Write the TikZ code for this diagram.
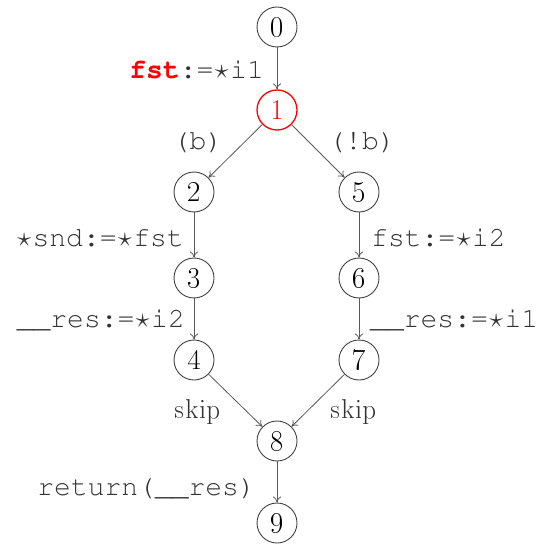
\RequirePackage{fix-cm}
\documentclass[tikz,border=0pt]{standalone}
\usepackage[T1]{fontenc}
\usetikzlibrary{arrows.meta}
\newcommand{\mytt}{\fontfamily{pcr}\selectfont}
\newcommand{\mystar}{\makebox[0.6em]{$\star$}}
\begin{document}
\begin{tikzpicture}[x=1pt,y=-1pt,
  st/.style={circle,draw=black!75,line width=0.9pt,minimum size=40pt,inner sep=0pt,font=\fontsize{29}{31}\selectfont},
  cur/.style={st,draw=red,text=red,line width=1.3pt},
  edge/.style={draw=black!65,line width=0.8pt,-{To[length=6pt,width=8pt]}},
  lab/.style={inner sep=0pt,text=black!80,font=\fontsize{28}{30}\mytt},
  slab/.style={inner sep=0pt,text=black!80,font=\fontsize{28}{30}\selectfont}]
\useasboundingbox (0,0) rectangle (543,548);
\node[st]  (n0) at (277,27) {0};
\node[cur] (n1) at (277,110) {1};
\node[st]  (n2) at (194,192) {2};
\node[st]  (n5) at (359,192) {5};
\node[st]  (n3) at (194,278) {3};
\node[st]  (n6) at (359,278) {6};
\node[st]  (n4) at (194,360) {4};
\node[st]  (n7) at (359,360) {7};
\node[st]  (n8) at (277,441) {8};
\node[st]  (n9) at (277,523) {9};
\path[edge] (n0) -- (n1);
\path[edge] (n1) -- (n2);
\path[edge] (n1) -- (n5);
\path[edge] (n2) -- (n3);
\path[edge] (n3) -- (n4);
\path[edge] (n5) -- (n6);
\path[edge] (n6) -- (n7);
\path[edge] (n4) -- (n8);
\path[edge] (n7) -- (n8);
\path[edge] (n8) -- (n9);
\node[lab,anchor=east] (l01) at (264,70) {\textcolor{red}{\bfseries fst}:=\mystar i1};
\node[lab] (l12) at (198,142) {(b)};
\node[lab] (l15) at (362,142) {(!b)};
\node[lab,anchor=east] (l23) at (184,238) {\mystar snd:=\mystar fst};
\node[lab,anchor=east] (l34) at (185,320) {\_\_res:=\mystar i2};
\node[lab,anchor=west] (l56) at (371,238) {fst:=\mystar i2};
\node[lab,anchor=west] (l67) at (370,320) {\_\_res:=\mystar i1};
\node[slab] (l48) at (198,412) {skip};
\node[slab] (l78) at (354,412) {skip};
\node[lab,anchor=east] (l89) at (256,488) {return(\_\_res)};
\end{tikzpicture}
\end{document}
